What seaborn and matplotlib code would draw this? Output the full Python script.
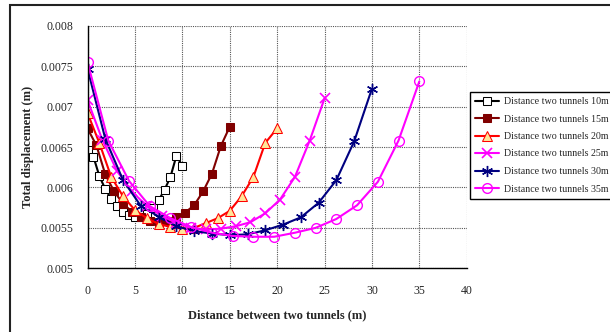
import matplotlib
matplotlib.use("Agg")
import matplotlib.pyplot as plt
import matplotlib.patches as mpatches
import seaborn as sns
import pandas as pd

# ---- data ----
x10 = [0, 0.625, 1.25, 1.875, 2.5, 3.125, 3.75, 4.375, 5, 5.625, 6.25, 6.875, 7.5, 8.125, 8.75, 9.375, 10]
y10 = [0.00646, 0.00638, 0.00614, 0.00598, 0.00586, 0.00577, 0.00570, 0.00566, 0.00563, 0.00563,
       0.00567, 0.00575, 0.00584, 0.00597, 0.00613, 0.00639, 0.00627]
x15 = [0, 0.94, 1.88, 2.81, 3.75, 4.69, 5.63, 6.56, 7.5, 8.44, 9.38, 10.31, 11.25, 12.19, 13.13, 14.06, 15]
y15 = [0.00673, 0.00652, 0.00616, 0.00595, 0.00580, 0.00570, 0.00564, 0.00559, 0.00557, 0.00559,
       0.00563, 0.00569, 0.00578, 0.00595, 0.00617, 0.00651, 0.00675]
x20 = [0, 1.25, 2.5, 3.75, 5, 6.25, 7.5, 8.75, 10, 11.25, 12.5, 13.75, 15, 16.25, 17.5, 18.75, 20]
y20 = [0.00692, 0.00655, 0.00613, 0.00589, 0.00572, 0.00562, 0.00555, 0.00551, 0.00549, 0.00550,
       0.00556, 0.00562, 0.00571, 0.00589, 0.00613, 0.00655, 0.00673]
x25 = [0, 1.56, 3.13, 4.69, 6.25, 7.81, 9.38, 10.94, 12.5, 14.06, 15.63, 17.19, 18.75, 20.31, 21.88, 23.44, 25]
y25 = [0.00708, 0.00659, 0.00620, 0.00595, 0.00577, 0.00565, 0.00556, 0.00550, 0.00548, 0.00549,
       0.00552, 0.00557, 0.00568, 0.00585, 0.00613, 0.00658, 0.00710]
x30 = [0, 1.88, 3.75, 5.63, 7.5, 9.38, 11.25, 13.13, 15, 16.88, 18.75, 20.63, 22.5, 24.38, 26.25, 28.13, 30]
y30 = [0.00747, 0.00660, 0.00609, 0.00577, 0.00564, 0.00552, 0.00546, 0.00543, 0.00541, 0.00542,
       0.00547, 0.00554, 0.00563, 0.00581, 0.00609, 0.00657, 0.00722]
x35 = [0, 2.19, 4.38, 6.56, 8.75, 10.94, 13.13, 15.31, 17.5, 19.69, 21.88, 24.06, 26.25, 28.44, 30.63, 32.81, 35]
y35 = [0.00755, 0.00658, 0.00608, 0.00577, 0.00562, 0.00551, 0.00544, 0.00540, 0.00539, 0.00539,
       0.00544, 0.00550, 0.00561, 0.00578, 0.00607, 0.00658, 0.00731]

labels = ["Distance two tunnels 10m", "Distance two tunnels 15m", "Distance two tunnels 20m",
          "Distance two tunnels 25m", "Distance two tunnels 30m", "Distance two tunnels 35m"]
xticks = [0, 5, 10, 15, 20, 25, 30, 35, 40]
yticks = [0.005, 0.0055, 0.006, 0.0065, 0.007, 0.0075, 0.008]
ytick_labels = ["0.005", "0.0055", "0.006", "0.0065", "0.007", "0.0075", "0.008"]

series = [(x10, y10), (x15, y15), (x20, y20), (x25, y25), (x30, y30), (x35, y35)]
styles = [
    dict(color="black", marker="s", markerfacecolor="white", markeredgecolor="black", markersize=6),
    dict(color="#800000", marker="s", markerfacecolor="#800000", markeredgecolor="#800000", markersize=6),
    dict(color="#FF0000", marker="^", markerfacecolor="#FFE699", markeredgecolor="#FF0000", markersize=7),
    dict(color="#FF00FF", marker="x", markerfacecolor="#FF00FF", markeredgecolor="#FF00FF", markersize=7, markeredgewidth=1.2),
    dict(color="#000080", marker=(6, 2, 0), markerfacecolor="#000080", markeredgecolor="#000080", markersize=8, markeredgewidth=1.0),
    dict(color="#FF00FF", marker="o", markerfacecolor="none", markeredgecolor="#FF00FF", markersize=7, markeredgewidth=1.0),
]

sns.set_style("white")
plt.rcParams["font.family"] = ["Liberation Serif", "DejaVu Serif"]

W, H = 610, 332
fig = plt.figure(figsize=(W / 100, H / 100), dpi=100)
ax = fig.add_axes([87.5 / W, 1 - 268.3 / H, (466.7 - 87.5) / W, (268.3 - 25.7) / H])

for (xs, ys), st, lab in zip(series, styles, labels):
    df = pd.DataFrame({"x": xs, "y": ys})
    sns.lineplot(data=df, x="x", y="y", ax=ax, label=lab, linewidth=1.5, **st)

ax.set_xlim(0, 40)
ax.set_ylim(0.005, 0.008)
ax.set_xticks(xticks)
ax.set_xticklabels([str(t) for t in xticks])
ax.set_yticks(yticks)
ax.set_yticklabels(ytick_labels)
ax.tick_params(axis="both", direction="inout", length=6, width=0.8, labelsize=8.5, color="black")
ax.tick_params(axis="x", pad=9)
ax.tick_params(axis="y", pad=7)
ax.grid(True, color="#555555", linestyle=(0, (1, 1)), linewidth=0.8)
ax.set_axisbelow(True)
for s in ["top", "right"]:
    ax.spines[s].set_visible(False)
for s in ["left", "bottom"]:
    ax.spines[s].set_color("black")
    ax.spines[s].set_linewidth(1.0)

ax.set_xlabel("Distance between two tunnels (m)", fontsize=9, fontweight="bold", labelpad=9)
ax.set_ylabel("Total displacement (m)", fontsize=9, fontweight="bold", labelpad=5)

handles, labs = ax.get_legend_handles_labels()
if ax.legend_:
    ax.legend_.remove()
leg = fig.legend(handles, labs, loc="upper left", bbox_to_anchor=(470 / W, 1 - 92 / H),
                 bbox_transform=fig.transFigure, fontsize=7.2, frameon=True, fancybox=False,
                 edgecolor="black", framealpha=1, handlelength=2.4, handletextpad=0.5,
                 labelspacing=0.85, borderpad=0.5, borderaxespad=0)
leg.get_frame().set_linewidth(1.0)

# outer chart border
fig.patches.append(mpatches.Rectangle((10 / W, -0.1), 1.0, 1 - 5 / H + 0.1, transform=fig.transFigure,
                                      fill=False, edgecolor="#222222", linewidth=1.5))

fig.savefig("out.png", dpi=100)
